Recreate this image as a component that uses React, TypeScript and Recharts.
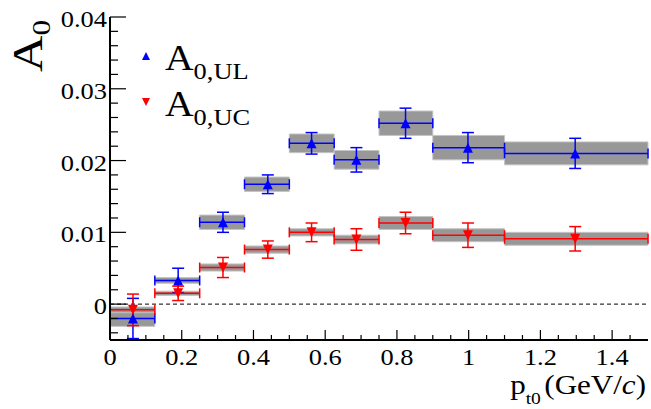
import React from "react";
import {
  ScatterChart,
  Scatter,
  XAxis,
  YAxis,
  ErrorBar,
  ReferenceArea,
  ReferenceLine,
  Legend,
} from "recharts";

// bins in p_t0 (GeV/c) and mean p_t0 of each bin
const binLow = [0, 0.125, 0.25, 0.375, 0.5, 0.625, 0.75, 0.9, 1.1];
const binHigh = [0.125, 0.25, 0.375, 0.5, 0.625, 0.75, 0.9, 1.1, 1.5];
const ptMean = [0.064, 0.19, 0.315, 0.44, 0.562, 0.687, 0.824, 0.998, 1.297];

// A0,UL
const ulValues = [-0.002, 0.0033, 0.0114, 0.0167, 0.0224, 0.0201, 0.0252, 0.0218, 0.021];
const ulStat = [0.0028, 0.0017, 0.0014, 0.0013, 0.0015, 0.0017, 0.0021, 0.0021, 0.0021];
const ulSys = [0.0011, 0.0004, 0.001, 0.001, 0.0013, 0.0013, 0.0017, 0.0017, 0.0016];

// A0,UC
const ucValues = [-0.0008, 0.0015, 0.0051, 0.0076, 0.01, 0.009, 0.0113, 0.0096, 0.0091];
const ucStat = [0.0022, 0.001, 0.0014, 0.0012, 0.0013, 0.0015, 0.0015, 0.0017, 0.0017];
const ucSys = [0.0004, 0.0003, 0.0005, 0.0005, 0.0005, 0.0006, 0.0009, 0.0009, 0.0009];

const xTicks = [
  0, 0.05, 0.1, 0.15, 0.2, 0.25, 0.3, 0.35, 0.4, 0.45, 0.5, 0.55, 0.6, 0.65, 0.7,
  0.75, 0.8, 0.85, 0.9, 0.95, 1, 1.05, 1.1, 1.15, 1.2, 1.25, 1.3, 1.35, 1.4, 1.45,
];
const xMajor = [0, 0.2, 0.4, 0.6, 0.8, 1, 1.2, 1.4];
const yTicks = [
  -0.004, -0.002, 0, 0.002, 0.004, 0.006, 0.008, 0.01, 0.012, 0.014, 0.016, 0.018,
  0.02, 0.022, 0.024, 0.026, 0.028, 0.03, 0.032, 0.034, 0.036, 0.038, 0.04,
];
const yMajor = [0, 0.01, 0.02, 0.03, 0.04];

const FONT = "'Liberation Serif', 'Times New Roman', serif";
const STRETCH = 1.15;
const BLUE = "#0000ff";
const RED = "#ff0000";
const BOX = "#989898";

const isMajor = (v: number, majors: number[]) =>
  majors.some((m) => Math.abs(m - v) < 1e-9);

const makePoints = (vals: number[], stat: number[]) =>
  vals.map((y, i) => ({
    x: ptMean[i],
    y,
    ey: stat[i],
    ex: [ptMean[i] - binLow[i], binHigh[i] - ptMean[i]],
  }));

const ulPoints = makePoints(ulValues, ulStat);
const ucPoints = makePoints(ucValues, ucStat);

function BottomTick(props: any) {
  const { x, y, payload } = props;
  const major = isMajor(payload.value, xMajor);
  return (
    <g>
      <line x1={x} x2={x} y1={y} y2={y - (major ? 10 : 5)} stroke="#000" strokeWidth={1.2} />
      {major && (
        <text
          transform={`translate(${x},${y + 25}) scale(${STRETCH},1)`}
          textAnchor="middle"
          fontSize={23}
          fontFamily={FONT}
          fill="#000"
        >
          {String(payload.value)}
        </text>
      )}
    </g>
  );
}

function TopTick(props: any) {
  const { x, y, payload } = props;
  const major = isMajor(payload.value, xMajor);
  return <line x1={x} x2={x} y1={y} y2={y + (major ? 10 : 5)} stroke="#000" strokeWidth={1.2} />;
}

function LeftTick(props: any) {
  const { x, y, payload } = props;
  const major = isMajor(payload.value, yMajor);
  return (
    <g>
      <line x1={x} x2={x + (major ? 16 : 8)} y1={y} y2={y} stroke="#000" strokeWidth={1.2} />
      {major && (
        <text
          transform={`translate(${x - 3},${y + 10}) scale(${STRETCH},1)`}
          textAnchor="end"
          fontSize={23}
          fontFamily={FONT}
          fill="#000"
        >
          {String(payload.value)}
        </text>
      )}
    </g>
  );
}

function RightTick(props: any) {
  const { x, y, payload } = props;
  const major = isMajor(payload.value, yMajor);
  return <line x1={x} x2={x - (major ? 15 : 7)} y1={y} y2={y} stroke="#000" strokeWidth={1.2} />;
}

function YTitle(props: any) {
  const vb = props.viewBox || { x: 0, y: 17 };
  return (
    <text
      transform={`translate(${vb.x + 42},${vb.y + 55}) rotate(-90) scale(1.2,1)`}
      fontSize={42}
      fontFamily={FONT}
      fill="#000"
    >
      A
      <tspan fontSize={26} dy={8}>
        0
      </tspan>
    </text>
  );
}

function XTitle(props: any) {
  const vb = props.viewBox || { x: 110, y: 340, width: 538 };
  return (
    <text
      transform={`translate(${vb.x + vb.width - 2},${vb.y + 54}) scale(${STRETCH},1)`}
      textAnchor="end"
      fontSize={27}
      fontFamily={FONT}
      fill="#000"
    >
      p
      <tspan fontSize={17} dy={10}>
        t0
      </tspan>
      <tspan dy={-10} dx={3}>
        (GeV/
      </tspan>
      <tspan fontStyle="italic">c</tspan>
      <tspan>)</tspan>
    </text>
  );
}

const upTriangle = (props: any) => {
  const { cx, cy } = props;
  return <path d={`M${cx - 5},${cy + 5} L${cx + 5},${cy + 5} L${cx},${cy - 5} Z`} fill={BLUE} />;
};

const downTriangle = (props: any) => {
  const { cx, cy } = props;
  return <path d={`M${cx - 5},${cy - 5} L${cx + 5},${cy - 5} L${cx},${cy + 5} Z`} fill={RED} />;
};

function LegendBox() {
  const entries = [
    { label: "0,UL", color: BLUE, up: true },
    { label: "0,UC", color: RED, up: false },
  ];
  return (
    <svg width={150} height={110}>
      {entries.map((e, i) => {
        const cy = 26 + i * 46;
        const d = e.up
          ? `M12,${cy + 4} L20,${cy + 4} L16,${cy - 4} Z`
          : `M12,${cy - 4} L20,${cy - 4} L16,${cy + 4} Z`;
        return (
          <g key={e.label}>
            <path d={d} fill={e.color} />
            <text
              transform={`translate(35,${cy + 14}) scale(1.1,1)`}
              fontSize={36}
              fontFamily={FONT}
              fill="#000"
            >
              A
              <tspan fontSize={24} dy={9}>
                {e.label}
              </tspan>
            </text>
          </g>
        );
      })}
    </svg>
  );
}

export default function App() {
  return (
    <div style={{ position: "absolute", left: 0, top: 0, width: 651, height: 409, background: "#fff" }}>
      <ScatterChart width={651} height={409} margin={{ top: 17, right: 3, bottom: 0, left: 0 }}>
        <XAxis
          type="number"
          dataKey="x"
          domain={[0, 1.5]}
          allowDataOverflow
          ticks={xTicks}
          interval={0}
          tick={(p: any) => <BottomTick {...p} />}
          tickLine={false}
          tickSize={0}
          tickMargin={0}
          height={69}
          axisLine={{ stroke: "#000", strokeWidth: 2 }}
          label={<XTitle />}
        />
        <XAxis
          xAxisId="top"
          orientation="top"
          type="number"
          domain={[0, 1.5]}
          allowDataOverflow
          ticks={xTicks}
          interval={0}
          tick={(p: any) => <TopTick {...p} />}
          tickLine={false}
          tickSize={0}
          tickMargin={0}
          height={0}
          axisLine={{ stroke: "#000", strokeWidth: 2 }}
        />
        <YAxis
          type="number"
          dataKey="y"
          domain={[-0.005, 0.04]}
          allowDataOverflow
          ticks={yTicks}
          interval={0}
          tick={(p: any) => <LeftTick {...p} />}
          tickLine={false}
          tickSize={0}
          tickMargin={0}
          width={110}
          axisLine={{ stroke: "#000", strokeWidth: 2 }}
          label={<YTitle />}
        />
        <YAxis
          yAxisId="right"
          orientation="right"
          type="number"
          domain={[-0.005, 0.04]}
          allowDataOverflow
          ticks={yTicks}
          interval={0}
          tick={(p: any) => <RightTick {...p} />}
          tickLine={false}
          tickSize={0}
          tickMargin={0}
          width={0}
          axisLine={{ stroke: "#000", strokeWidth: 2 }}
        />
        {ulValues.map((v, i) => (
          <ReferenceArea
            key={`ul-box-${i}`}
            x1={binLow[i]}
            x2={binHigh[i]}
            y1={v - ulSys[i]}
            y2={v + ulSys[i]}
            fill={BOX}
            fillOpacity={1}
            stroke="#c4c4c4"
            strokeWidth={1}
          />
        ))}
        {ucValues.map((v, i) => (
          <ReferenceArea
            key={`uc-box-${i}`}
            x1={binLow[i]}
            x2={binHigh[i]}
            y1={v - ucSys[i]}
            y2={v + ucSys[i]}
            fill={BOX}
            fillOpacity={1}
            stroke="#c4c4c4"
            strokeWidth={1}
          />
        ))}
        <ReferenceLine y={0} stroke="#000" strokeDasharray="4 3" strokeWidth={1} />
        <Scatter name="A0,UL" data={ulPoints} fill={BLUE} shape={upTriangle} isAnimationActive={false}>
          <ErrorBar dataKey="ey" direction="y" width={6} stroke={BLUE} strokeWidth={1.5} isAnimationActive={false} />
          <ErrorBar dataKey="ex" direction="x" width={5} stroke={BLUE} strokeWidth={1.5} isAnimationActive={false} />
        </Scatter>
        <Scatter name="A0,UC" data={ucPoints} fill={RED} shape={downTriangle} isAnimationActive={false}>
          <ErrorBar dataKey="ey" direction="y" width={6} stroke={RED} strokeWidth={1.5} isAnimationActive={false} />
          <ErrorBar dataKey="ex" direction="x" width={5} stroke={RED} strokeWidth={1.5} isAnimationActive={false} />
        </Scatter>
        <Legend
          layout="vertical"
          align="center"
          verticalAlign="middle"
          wrapperStyle={{ left: 130, top: 30, width: 150, height: 110 }}
          content={() => <LegendBox />}
        />
      </ScatterChart>
    </div>
  );
}
